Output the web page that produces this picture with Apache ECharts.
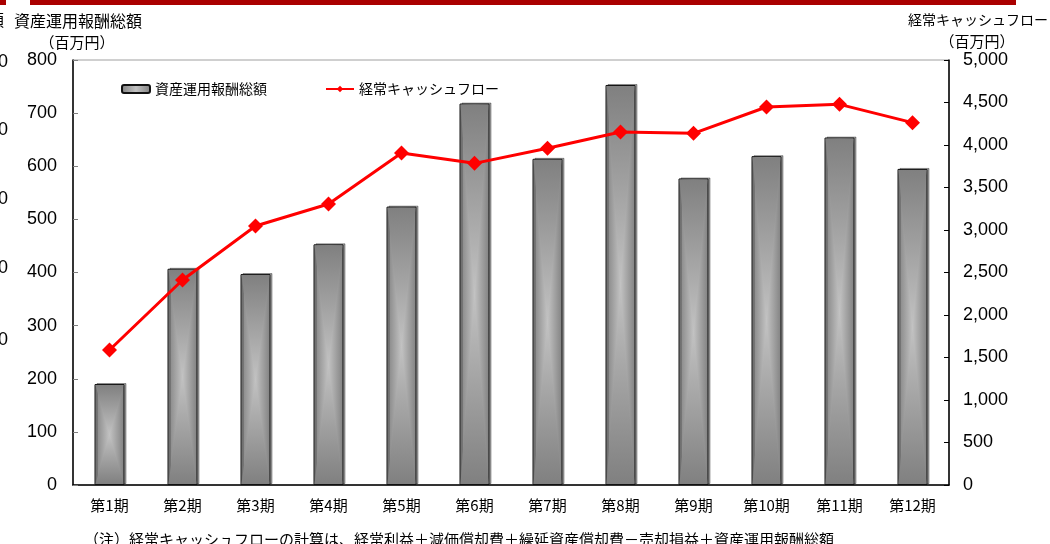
<!DOCTYPE html>
<html>
<head>
<meta charset="utf-8">
<script src="https://cdn.jsdelivr.net/npm/echarts@6/dist/echarts.min.js"></script>
<style>
  html, body { margin: 0; padding: 0; background: #fff; }
  #chart { width: 1050px; height: 544px; }
</style>
</head>
<body>
<div id="chart"></div>
<script>
// ---- data ----
const categories = ['第1期', '第2期', '第3期', '第4期', '第5期', '第6期', '第7期', '第8期', '第9期', '第10期', '第11期', '第12期'];
const feeTotals = [190, 407, 397, 453, 524, 718, 614, 753, 577, 619, 654, 595];      // 資産運用報酬総額 (百万円)
const cashFlow = [1588, 2412, 3047, 3306, 3906, 3784, 3961, 4153, 4137, 4447, 4478, 4263]; // 経常キャッシュフロー (百万円)
const leftAxisRange = [0, 800, 100];
const rightAxisRange = [0, 5000, 500];
const strayDigits = ['0', '0', '0', '0', '0'];

const DARK = '#808080';
const LIGHT = '#c2c2c2';
const JP = "'Noto Sans CJK JP', sans-serif";
const LAT = "'Liberation Sans', Arial, sans-serif";

const chart = echarts.init(document.getElementById('chart'), null, { renderer: 'canvas' });

const barFill = new echarts.graphic.LinearGradient(0, 0, 1, 0, [
  { offset: 0, color: DARK }, { offset: 0.5, color: LIGHT }, { offset: 1, color: DARK }
]);

const graphics = [
  { type: 'rect', shape: { x: 30, y: 0, width: 986, height: 5 }, style: { fill: '#aa0000' } },
  { type: 'rect', shape: { x: 0, y: 0, width: 6, height: 5 }, style: { fill: '#aa0000' } },
  { type: 'text', x: 4, y: 20, style: { text: '額', font: '16px ' + JP, fill: '#000', align: 'right', verticalAlign: 'middle' } },
  { type: 'text', x: 78, y: 21, style: { text: '資産運用報酬総額', font: '16px ' + JP, fill: '#000', align: 'center', verticalAlign: 'middle' } },
  { type: 'text', x: 77, y: 42, style: { text: '（百万円）', font: '15px ' + JP, fill: '#000', align: 'center', verticalAlign: 'middle' } },
  { type: 'text', x: 978, y: 20, style: { text: '経常キャッシュフロー', font: '14px ' + JP, fill: '#000', align: 'center', verticalAlign: 'middle' } },
  { type: 'text', x: 977, y: 41, style: { text: '（百万円）', font: '15px ' + JP, fill: '#000', align: 'center', verticalAlign: 'middle' } },
  { type: 'text', x: 84, y: 539, style: { text: '（注）経常キャッシュフローの計算は、経常利益＋減価償却費＋繰延資産償却費－売却損益＋資産運用報酬総額', font: '15px ' + JP, fill: '#000', align: 'left', verticalAlign: 'middle' } }
];
const strayY = [62, 130, 199, 268, 340];
strayDigits.forEach((d, i) => {
  graphics.push({ type: 'text', x: 8, y: strayY[i], style: { text: d, font: '18px ' + LAT, fill: '#000', align: 'right', verticalAlign: 'middle' } });
});

const option = {
  backgroundColor: '#fff',
  animation: false,
  grid: { left: 73, right: 101, top: 60, bottom: 59, show: true, borderColor: '#a0a0a0', borderWidth: 1, containLabel: false },
  legend: {
    data: ['資産運用報酬総額', '経常キャッシュフロー'],
    left: 116, top: 77,
    itemWidth: 28, itemHeight: 8, itemGap: 58,
    textStyle: { fontFamily: JP, fontSize: 14, color: '#000' },
    selectedMode: false
  },
  xAxis: {
    type: 'category',
    data: categories,
    axisLine: { lineStyle: { color: '#000', width: 1.5 } },
    axisTick: { inside: true, length: 4, lineStyle: { color: '#808080' } },
    axisLabel: { fontFamily: JP, fontSize: 15, color: '#000', margin: 13, interval: 0 },
    splitLine: { show: false }
  },
  yAxis: [
    {
      type: 'value', min: leftAxisRange[0], max: leftAxisRange[1], interval: leftAxisRange[2],
      axisLine: { show: true, lineStyle: { color: '#000', width: 1.5 } },
      axisTick: { show: true, inside: true, length: 5, lineStyle: { color: '#808080' } },
      axisLabel: { fontFamily: LAT, fontSize: 18, color: '#000', margin: 16 },
      splitLine: { show: false }
    },
    {
      type: 'value', min: rightAxisRange[0], max: rightAxisRange[1], interval: rightAxisRange[2],
      position: 'right',
      axisLine: { show: true, lineStyle: { color: '#000', width: 1.5 } },
      axisTick: { show: true, inside: true, length: 5, lineStyle: { color: '#000' } },
      axisLabel: { fontFamily: LAT, fontSize: 18, color: '#000', margin: 14, formatter: v => v.toLocaleString('en-US') },
      splitLine: { show: false }
    }
  ],
  series: [
    {
      name: '資産運用報酬総額',
      type: 'bar',
      yAxisIndex: 0,
      data: feeTotals,
      barWidth: 30,
      z: 2,
      itemStyle: {
        color: barFill, borderColor: '#111', borderWidth: 1,
        shadowColor: 'rgba(0,0,0,0.35)', shadowOffsetX: 2, shadowOffsetY: -1, shadowBlur: 0
      }
    },
    {
      name: 'barShade',
      type: 'custom',
      yAxisIndex: 0,
      silent: true,
      z: 3,
      clip: false,
      data: feeTotals.map((v, i) => [i, v]),
      encode: { x: 0, y: 1 },
      renderItem: function (params, api) {
        const idx = api.value(0);
        const v = api.value(1);
        const top = api.coord([idx, v]);
        const base = api.coord([idx, 0]);
        const cx = top[0];
        const hw = 14;
        const t = top[1] + 1;
        const b = base[1] - 1;
        const mid = (t + b) / 2;
        return {
          type: 'group',
          children: [
            {
              type: 'polygon',
              z2: 10,
              shape: { points: [[cx - hw, t], [cx + hw, t], [cx, mid]] },
              style: { fill: new echarts.graphic.LinearGradient(0, 0, 0, 1, [{ offset: 0, color: DARK }, { offset: 1, color: LIGHT }]) }
            },
            {
              type: 'polygon',
              z2: 10,
              shape: { points: [[cx - hw, b], [cx + hw, b], [cx, mid]] },
              style: { fill: new echarts.graphic.LinearGradient(0, 1, 0, 0, [{ offset: 0, color: DARK }, { offset: 1, color: LIGHT }]) }
            }
          ]
        };
      }
    },
    {
      name: '経常キャッシュフロー',
      type: 'line',
      yAxisIndex: 1,
      data: cashFlow,
      z: 5,
      symbol: 'diamond',
      symbolSize: 15,
      lineStyle: { color: '#ff0000', width: 3 },
      itemStyle: { color: '#ff0000' }
    }
  ],
  graphic: graphics
};

chart.setOption(option);
</script>
</body>
</html>
